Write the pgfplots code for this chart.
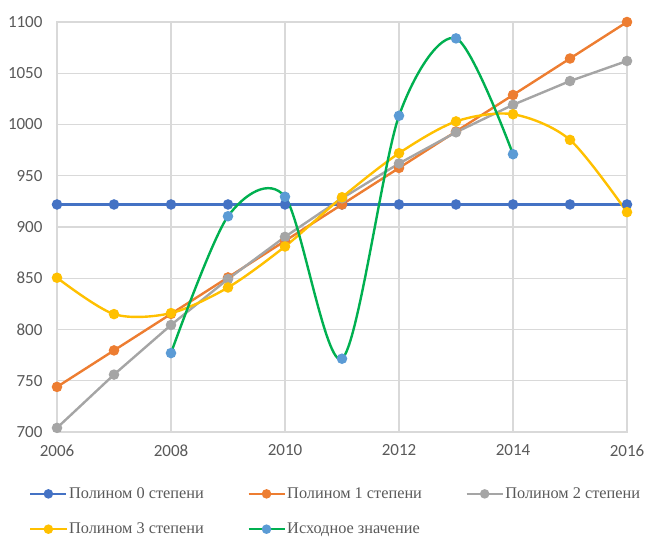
\documentclass[border=0pt]{standalone}
\usepackage{pgfplots}
\pgfplotsset{compat=1.18}
\usepackage{fontspec}
\setmainfont{Liberation Serif}
\newfontfamily\ticksfont{Carlito}

\definecolor{cBlue}{HTML}{4472C4}
\definecolor{cOrange}{HTML}{ED7D31}
\definecolor{cGray}{HTML}{A5A5A5}
\definecolor{cYellow}{HTML}{FFC000}
\definecolor{cGreen}{HTML}{00B050}
\definecolor{cLightBlue}{HTML}{5B9BD5}
\definecolor{cGrid}{HTML}{D9D9D9}
\definecolor{cText}{HTML}{595959}

\begin{document}
\begin{tikzpicture}
\begin{axis}[
    scale only axis,
    width=570pt,
    height=410pt,
    xmin=2006, xmax=2016,
    ymin=700, ymax=1100,
    xtick={2006,2008,...,2016},
    ytick={700,750,...,1100},
    grid=major,
    grid style={draw=cGrid, line width=1.2pt},
    axis line style={draw=cGrid, line width=1.2pt},
    major tick length=0pt,
    /pgf/number format/1000 sep={},
    /pgf/number format/assume math mode=true,
    tick label style={font=\ticksfont\fontsize{17}{20}\selectfont, text=cText},
    xticklabel style={yshift=-9pt},
    yticklabel style={xshift=-11pt},
    every axis plot/.append style={line width=2.4pt, mark=*, mark size=4pt},
    legend style={
        at={(axis description cs:0,0)}, anchor=north west,
        xshift=-28pt, yshift=-54pt,
        draw=none, fill=none,
        font=\fontsize{16.3}{19}\selectfont, text=cText,
        legend columns=3,
        /tikz/every even column/.append style={column sep=42pt},
        row sep=20pt,
        inner sep=0pt,
        nodes={inner sep=1.5pt},
    },
    legend cell align=left,
    legend image code/.code={
        \draw[mark repeat=2, mark phase=2, line width=2.4pt, mark size=3.5pt, #1]
            plot coordinates {(0pt,0pt) (18pt,0pt) (36pt,0pt)};
    },
]

% Polynomial of degree 0
\addplot[color=cBlue, mark options={fill=cBlue, draw=cBlue}] coordinates {
    (2006,922) (2007,922) (2008,922) (2009,922) (2010,922) (2011,922)
    (2012,922) (2013,922) (2014,922) (2015,922) (2016,922)
};

% Polynomial of degree 1
\addplot[color=cOrange, mark options={fill=cOrange, draw=cOrange}] coordinates {
    (2006,744) (2007,779.6) (2008,815.2) (2009,850.8) (2010,886.4) (2011,922)
    (2012,957.6) (2013,993.2) (2014,1028.8) (2015,1064.4) (2016,1100)
};

% Polynomial of degree 2
\addplot[color=cGray, mark options={fill=cGray, draw=cGray}] coordinates {
    (2006,704) (2007,756) (2008,804.4) (2009,849.2) (2010,890.4) (2011,928)
    (2012,962) (2013,992.4) (2014,1019.2) (2015,1042.4) (2016,1062)
};

% Polynomial of degree 3
\addplot[color=cYellow, smooth, mark options={fill=cYellow, draw=cYellow}] coordinates {
    (2006,850.5) (2007,815) (2008,816) (2009,841) (2010,881) (2011,929)
    (2012,972) (2013,1003) (2014,1010) (2015,985) (2016,914.5)
};

% Original values
\addplot[color=cGreen, smooth, mark options={fill=cLightBlue, draw=cLightBlue}] coordinates {
    (2008,777) (2009,910.5) (2010,929.5) (2011,771.5)
    (2012,1008.5) (2013,1084) (2014,971)
};

\legend{Полином 0 степени, Полином 1 степени, Полином 2 степени,
        Полином 3 степени, Исходное значение}
\end{axis}
\pgfresetboundingbox
\useasboundingbox (-57pt,-107pt) rectangle (588pt,432pt);
\end{tikzpicture}
\end{document}
